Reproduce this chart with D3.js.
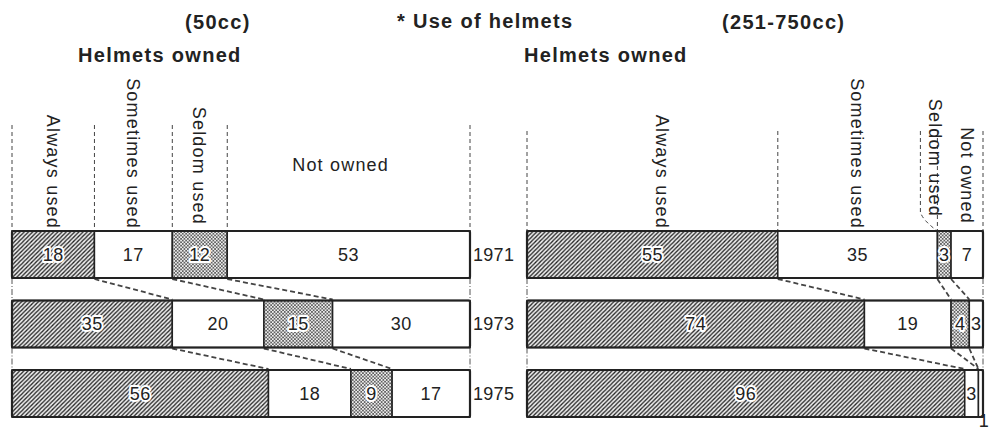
<!DOCTYPE html>
<html>
<head>
<meta charset="utf-8">
<script src="https://cdn.jsdelivr.net/npm/d3@7"></script>
<style>
  html, body { margin: 0; padding: 0; background: #fff; }
  svg { display: block; }
  text { font-family: "Liberation Sans", Arial, Helvetica, sans-serif; fill: #222; }
</style>
</head>
<body>
<svg id="chart" width="991" height="432"></svg>
<script>
// ---- data ----
const years = ["1971", "1973", "1975"];
const categories = ["Always used", "Sometimes used", "Seldom used", "Not owned"];
const values50cc = [
  [18, 17, 12, 53],
  [35, 20, 15, 30],
  [56, 18, 9, 17]
];
const values251 = [
  [55, 35, 3, 7],
  [74, 19, 4, 3],
  [96, 3, 0, 1]
];
const mainTitle = "* Use of helmets";
const panelTitles = ["(50cc)", "(251-750cc)"];
const panelSubtitle = "Helmets owned";

// ---- setup ----
const svg = d3.select("#chart");
const defs = svg.append("defs");

const hatch = defs.append("pattern").attr("id", "hatch")
  .attr("patternUnits", "userSpaceOnUse").attr("width", 4.2).attr("height", 4.2);
hatch.append("rect").attr("width", 4.2).attr("height", 4.2).attr("fill", "#eee");
hatch.append("path").attr("d", "M-1,1 L1,-1 M0,4.2 L4.2,0 M3.2,5.2 L5.2,3.2")
  .attr("stroke", "#222").attr("stroke-width", 1.3);

const dots = defs.append("pattern").attr("id", "dots")
  .attr("patternUnits", "userSpaceOnUse").attr("width", 3.4).attr("height", 3.4);
dots.append("rect").attr("width", 3.4).attr("height", 3.4).attr("fill", "#eee");
dots.append("circle").attr("cx", 0.85).attr("cy", 0.85).attr("r", 0.8).attr("fill", "#222");
dots.append("circle").attr("cx", 2.55).attr("cy", 2.55).attr("r", 0.8).attr("fill", "#222");

const fills = ["url(#hatch)", "#fff", "url(#dots)", "#fff"];

const y = d3.scalePoint().domain(years).range([231, 370]);
const barH = 47;

const panels = [
  { data: values50cc, x: d3.scaleLinear().domain([0, 100]).range([12, 470]), title: panelTitles[0], titleX: 185, subX: 78 },
  { data: values251, x: d3.scaleLinear().domain([0, 100]).range([527, 983]), title: panelTitles[1], titleX: 722, subX: 524 }
];

function txt(sel, size, weight, spacing) {
  return sel.attr("font-size", size).attr("font-weight", weight).attr("letter-spacing", spacing);
}

// main title
txt(svg.append("text").attr("x", 397).attr("y", 28).text(mainTitle), 20, "bold", 1.3);

panels.forEach((p, pi) => {
  const g = svg.append("g");
  const x = p.x;
  const cum = p.data.map(row => { let s = 0; return [0].concat(row.map(v => (s += v))); });

  txt(g.append("text").attr("x", p.titleX).attr("y", 29).text(p.title), 20, "bold", 1.3);
  txt(g.append("text").attr("x", p.subX).attr("y", 62).text(panelSubtitle), 20, "bold", 1.3);

  // header dashed guide lines (at 1971 boundaries)
  const top0 = y(years[0]);
  const guideBounds = cum[0].filter((b, i) => !(pi === 1 && i === 3));
  g.selectAll("line.guide").data(guideBounds).join("line")
    .attr("x1", d => x(d)).attr("x2", d => x(d))
    .attr("y1", (d, i) => pi === 0 ? 125 : 131).attr("y2", top0)
    .attr("stroke", "#444").attr("stroke-width", 1).attr("stroke-dasharray", "4,3");
  if (pi === 1) {
    // bracket for small "Seldom used" segment
    g.append("path")
      .attr("d", `M${x(cum[0][2]) - 17},131 L${x(cum[0][2]) - 17},212 Q${x(cum[0][2]) - 15},220 ${x(cum[0][2])},${top0}`)
      .attr("fill", "none").attr("stroke", "#444").attr("stroke-width", 1).attr("stroke-dasharray", "4,3");
  }

  // category labels
  categories.forEach((c, i) => {
    const mid = (x(cum[0][i]) + x(cum[0][i + 1])) / 2;
    if (pi === 0 && i === 3) {
      txt(g.append("text").attr("x", mid - 8).attr("y", 171).attr("text-anchor", "middle").text(c), 18, "normal", 1.2);
      return;
    }
    let cx = mid, bottom = 229;
    if (pi === 1 && i === 0) cx = mid + 10;
    if (pi === 1 && i === 2) { cx = x(cum[0][2]) - 2; bottom = 217; }
    if (pi === 1 && i === 3) { bottom = 224; }
    if (pi === 0 && i === 2) { bottom = 225; }
    txt(g.append("text")
      .attr("transform", `translate(${cx},${bottom}) rotate(90)`)
      .attr("text-anchor", "end").attr("dy", "0.35em").text(c), 18, "normal", 1.2);
  });

  // edge dash-dot lines between bars
  for (let k = 0; k < years.length - 1; k++) {
    [x(0), x(100)].forEach(ex => {
      g.append("line").attr("x1", ex).attr("x2", ex)
        .attr("y1", y(years[k]) + barH).attr("y2", y(years[k + 1]))
        .attr("stroke", "#555").attr("stroke-width", 1).attr("stroke-dasharray", "6,2,1,2");
    });
    // connectors between boundaries
    for (let b = 1; b <= 3; b++) {
      g.append("line")
        .attr("x1", x(cum[k][b])).attr("y1", y(years[k]) + barH + 1)
        .attr("x2", x(cum[k + 1][b])).attr("y2", y(years[k + 1]) - 1)
        .attr("stroke", "#444").attr("stroke-width", 1.8).attr("stroke-dasharray", "5,3");
    }
  }

  // bars
  years.forEach((yr, r) => {
    const row = p.data[r];
    const by = y(yr);
    row.forEach((v, i) => {
      const x0 = x(cum[r][i]), x1 = x(cum[r][i + 1]);
      g.append("rect").attr("x", x0).attr("y", by).attr("width", x1 - x0).attr("height", barH)
        .attr("fill", fills[i]).attr("stroke", "#222").attr("stroke-width", 1.5);
    });
    g.append("rect").attr("x", x(0)).attr("y", by).attr("width", x(100) - x(0)).attr("height", barH)
      .attr("fill", "none").attr("stroke", "#222").attr("stroke-width", 2.2).attr("rx", 1.5);

    row.forEach((v, i) => {
      if (v === 0) return;
      const x0 = x(cum[r][i]), x1 = x(cum[r][i + 1]);
      let tx = (x0 + x1) / 2, ty = by + barH / 2;
      if (pi === 1 && r === 2 && i === 3) { tx = x(100) + 1; ty = 421; }
      const t = g.append("text").attr("x", tx).attr("y", ty).attr("dy", "0.35em")
        .attr("text-anchor", "middle").text(v);
      txt(t, 18, "normal", 0.5);
      if (i === 0 || i === 2) {
        t.attr("stroke", "#fff").attr("stroke-width", 4).attr("paint-order", "stroke").attr("stroke-linejoin", "round");
      }
    });
  });
});

// year labels between panels
svg.selectAll("text.year").data(years).join("text")
  .attr("class", "year")
  .attr("x", 473).attr("y", d => y(d) + barH / 2).attr("dy", "0.35em")
  .attr("font-size", 18).attr("letter-spacing", 0.3)
  .text(d => d);
</script>
</body>
</html>
